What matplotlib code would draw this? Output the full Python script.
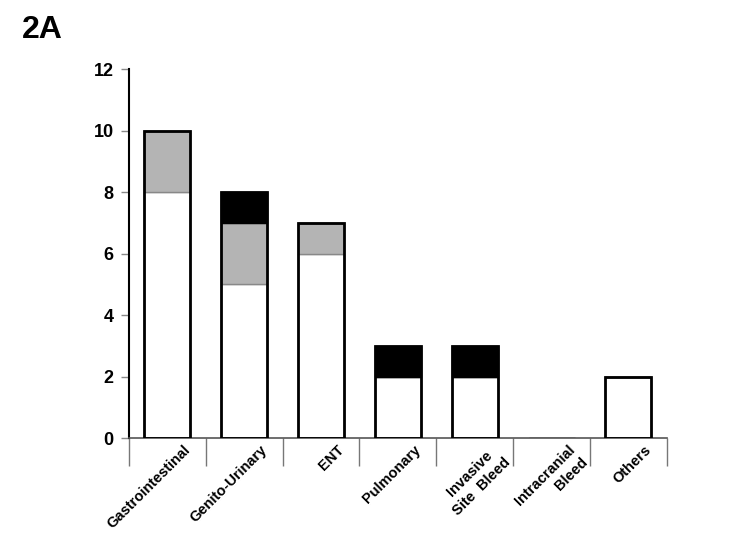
import matplotlib
matplotlib.use("Agg")
import matplotlib.pyplot as plt
import matplotlib.transforms as mtransforms
import numpy as np

categories = ["Gastrointestinal", "Genito-Urinary", "ENT", "Pulmonary",
              "Invasive\nSite  Bleed", "Intracranial\nBleed", "Others"]
white_vals = [8, 5, 6, 2, 2, 0, 2]
gray_vals = [2, 2, 1, 0, 0, 0, 0]
black_vals = [0, 1, 0, 1, 1, 0, 0]
yticks = [0, 2, 4, 6, 8, 10, 12]

plt.rcParams['font.family'] = ['Liberation Sans', 'DejaVu Sans']
plt.rcParams['font.weight'] = 'bold'

fig = plt.figure(figsize=(7.32, 5.45), dpi=100)
ax = fig.add_axes([0.176, 0.196, 0.735, 0.677])

x = np.arange(len(categories))
w = 0.6
white = np.array(white_vals, float)
gray = np.array(gray_vals, float)
black = np.array(black_vals, float)
total = white + gray + black

ax.bar(x, white, w, color='white', edgecolor='#888888', linewidth=1, zorder=2)
ax.bar(x, gray, w, bottom=white, color='#b4b4b4', edgecolor='#888888', linewidth=1, zorder=2)
ax.bar(x, black, w, bottom=white + gray, color='black', edgecolor='black', linewidth=1, zorder=2)
mask = total > 0
ax.bar(x[mask], total[mask], w, fill=False, edgecolor='black', linewidth=2, zorder=3)

ax.set_xlim(-0.5, len(categories) - 0.5)
ax.set_ylim(0, 12)
ax.set_yticks(yticks)
ax.set_yticklabels([str(v) for v in yticks], fontsize=13, fontweight='bold')
ax.tick_params(axis='y', length=6, width=1, color='#888888', pad=5)

ax.spines['top'].set_visible(False)
ax.spines['right'].set_visible(False)
ax.spines['left'].set_color('black')
ax.spines['left'].set_linewidth(1.5)
ax.spines['bottom'].set_color('#555555')
ax.spines['bottom'].set_linewidth(1.2)

# boundary ticks
ax.set_xticks(np.arange(len(categories) + 1) - 0.5, minor=True)
ax.tick_params(axis='x', which='minor', length=20, width=1, color='#777777')
ax.set_xticks(x)
ax.tick_params(axis='x', which='major', length=0, pad=3)
labels = ax.set_xticklabels(categories, rotation=45, ha='right',
                            rotation_mode='anchor', fontsize=10.5, fontweight='bold')
offset = mtransforms.ScaledTranslation(16 / 100, 0, fig.dpi_scale_trans)
for lab in labels:
    lab.set_transform(lab.get_transform() + offset)
    lab.set_linespacing(1.35)
    if lab.get_text().startswith("Invasive"):
        lab.set_multialignment('center')
    else:
        lab.set_multialignment('right')

fig.text(0.03, 0.945, "2A", fontsize=23, fontweight='bold', ha='left', va='center')

fig.savefig("out.png", dpi=100)
